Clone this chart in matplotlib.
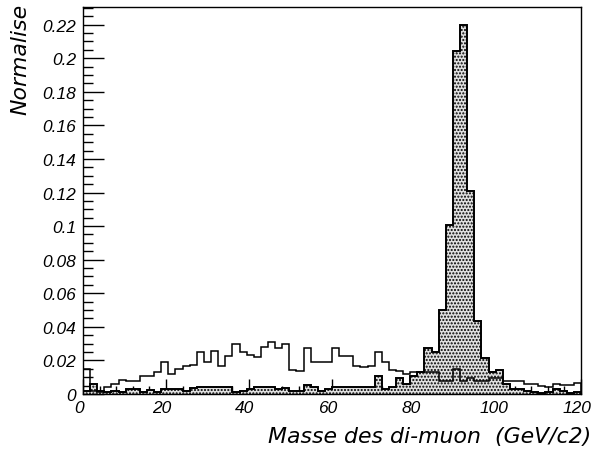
import numpy as np
import matplotlib
matplotlib.use("Agg")
import matplotlib.pyplot as plt
import matplotlib.transforms as mtransforms
from matplotlib.ticker import MultipleLocator, FuncFormatter

# ---- data ----
x_min, x_max, n_bins = 0.0, 120.0, 70
edges = np.linspace(x_min, x_max, n_bins + 1)

# broad (open) distribution
background = [
    0.0150, 0.0020, 0.0014, 0.0040, 0.0060, 0.0085, 0.0075, 0.0075, 0.0105, 0.0105,
    0.0133, 0.0189, 0.0119, 0.0150, 0.0169, 0.0173, 0.0248, 0.0189, 0.0258, 0.0169,
    0.0224, 0.0298, 0.0248, 0.0235, 0.0218, 0.0282, 0.0308, 0.0272, 0.0296, 0.0145,
    0.0135, 0.0276, 0.0189, 0.0189, 0.0189, 0.0276, 0.0228, 0.0228, 0.0169, 0.0159,
    0.0169, 0.0252, 0.0189, 0.0145, 0.0139, 0.0119, 0.0129, 0.0130, 0.0129, 0.0129,
    0.0079, 0.0079, 0.0149, 0.0079, 0.0093, 0.0079, 0.0079, 0.0093, 0.0093, 0.0079,
    0.0079, 0.0079, 0.0060, 0.0060, 0.0045, 0.0040, 0.0060, 0.0055, 0.0055, 0.0065,
]

# Z peak (filled) distribution
signal = [
    0.0020, 0.0060, 0.0020, 0.0010, 0.0015, 0.0010, 0.0030, 0.0030, 0.0010, 0.0025,
    0.0010, 0.0030, 0.0030, 0.0030, 0.0020, 0.0035, 0.0040, 0.0040, 0.0040, 0.0040,
    0.0040, 0.0010, 0.0020, 0.0030, 0.0040, 0.0040, 0.0044, 0.0030, 0.0038, 0.0015,
    0.0015, 0.0056, 0.0043, 0.0020, 0.0030, 0.0040, 0.0040, 0.0044, 0.0040, 0.0040,
    0.0044, 0.0105, 0.0030, 0.0040, 0.0093, 0.0060, 0.0105, 0.0129, 0.0275, 0.0250,
    0.0500, 0.1005, 0.2040, 0.2195, 0.1210, 0.0436, 0.0212, 0.0129, 0.0145, 0.0060,
    0.0030, 0.0030, 0.0020, 0.0010, 0.0005, 0.0010, 0.0030, 0.0015, 0.0005, 0.0010,
]

x_ticks = [0, 20, 40, 60, 80, 100, 120]
y_ticks = [0, 0.02, 0.04, 0.06, 0.08, 0.1, 0.12, 0.14, 0.16, 0.18, 0.2, 0.22]
x_title = "Masse des di-muon  (GeV/c2)"
y_title = "Normalise"

# ---- figure ----
plt.rcParams["hatch.linewidth"] = 1.0
W, H = 594, 452
fig = plt.figure(figsize=(W / 100, H / 100), dpi=100)
ax = fig.add_axes([83 / W, 1 - 395 / H, (581 - 83) / W, (395 - 8) / H])

ax.stairs(signal, edges, fill=True, facecolor="#e0e0e0", edgecolor="black",
          hatch=".....", linewidth=0, zorder=2)
ax.stairs(signal, edges, fill=False, color="black", linewidth=1.4, zorder=3)
ax.stairs(background, edges, fill=False, color="black", linewidth=1.1, zorder=4)

ax.set_xlim(x_min, x_max)
ax.set_ylim(0, 0.2305)

ax.set_xticks(x_ticks)
ax.set_yticks(y_ticks)
ax.xaxis.set_minor_locator(MultipleLocator(4))
ax.yaxis.set_minor_locator(MultipleLocator(0.005))

def yfmt(v, pos):
    if abs(v) < 1e-12:
        return "0"
    return f"{v:.2f}".rstrip("0").rstrip(".")

ax.yaxis.set_major_formatter(FuncFormatter(yfmt))
ax.xaxis.set_major_formatter(FuncFormatter(lambda v, p: f"{int(round(v))}"))

ax.tick_params(axis="both", which="both", direction="in", top=False, right=False,
               width=1.0, color="black")
ax.tick_params(axis="y", which="major", length=15, pad=5)
ax.tick_params(axis="y", which="minor", length=7.5)
ax.tick_params(axis="x", which="major", length=11, pad=4)
ax.tick_params(axis="x", which="minor", length=5.5)

fig.canvas.draw()
shift = mtransforms.ScaledTranslation(-4 / 100, 0, fig.dpi_scale_trans)
for lab in ax.get_xticklabels():
    lab.set_fontfamily("Liberation Sans")
    lab.set_fontstyle("italic")
    lab.set_fontsize(12.5)
    lab.set_transform(lab.get_transform() + shift)
for lab in ax.get_yticklabels():
    lab.set_fontfamily("Liberation Sans")
    lab.set_fontstyle("italic")
    lab.set_fontsize(12.5)

for sp in ax.spines.values():
    sp.set_linewidth(1.0)
    sp.set_color("black")

fig.text(591 / W, 1 - 437 / H, x_title, ha="right", va="center",
         fontsize=15.8, family="DejaVu Sans", style="italic")
fig.text(20 / W, 1 - 4 / H, y_title, ha="center", va="top", rotation=90,
         fontsize=15.8, family="DejaVu Sans", style="italic")

fig.savefig("out.png", dpi=100)
